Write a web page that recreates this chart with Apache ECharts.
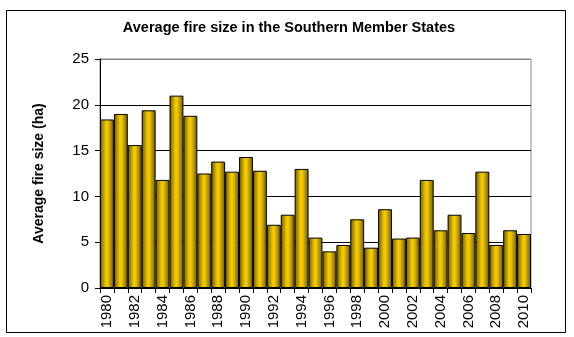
<!DOCTYPE html>
<html><head><meta charset="utf-8">
<script src="https://cdn.jsdelivr.net/npm/echarts@6/dist/echarts.min.js"></script>
<style>html,body{margin:0;padding:0;background:#fff}#c{width:574px;height:337px}</style>
</head><body><div id="c"></div>
<script>
const years = ['1980','1981','1982','1983','1984','1985','1986','1987','1988','1989','1990','1991','1992','1993','1994','1995','1996','1997','1998','1999','2000','2001','2002','2003','2004','2005','2006','2007','2008','2009','2010'];
const avgFireSize = [18.4,19.0,15.6,19.4,11.8,21.0,18.8,12.5,13.8,12.7,14.3,12.8,6.9,8.0,13.0,5.5,4.0,4.7,7.5,4.4,8.6,5.4,5.5,11.8,6.3,8.0,6.0,12.7,4.7,6.3,5.9];
const yTicks = [0,5,10,15,20,25];

const chart = echarts.init(document.getElementById('c'), null, {renderer:'canvas'});
const font = 'Liberation Sans, Arial, sans-serif';
chart.setOption({
  animation:false,
  backgroundColor:'#fff',
  title:{text:'Average fire size in the Southern Member States',left:284,top:15,textAlign:'center',
    textStyle:{fontFamily:font,fontSize:14.5,fontWeight:'bold',color:'#000'}},
  graphic:[{type:'rect',shape:{x:6.5,y:10.5,width:559,height:322},style:{fill:'none',stroke:'#000',lineWidth:1},silent:true}],
  grid:{left:100,top:59,right:43,bottom:49,show:true,borderColor:'#888',borderWidth:1,backgroundColor:'#fff'},
  xAxis:{type:'category',data:years,boundaryGap:true,
    axisLine:{lineStyle:{color:'#000',width:1}},
    axisTick:{show:true,interval:0,length:5,lineStyle:{color:'#000'}},
    axisLabel:{interval:1,rotate:90,fontFamily:font,fontSize:15,color:'#000',margin:7}},
  yAxis:{type:'value',min:0,max:25,interval:5,
    name:'Average fire size (ha)',nameLocation:'middle',nameGap:54,
    nameTextStyle:{fontFamily:font,fontSize:14,fontWeight:'bold',color:'#000'},
    axisLine:{show:true,lineStyle:{color:'#000'}},
    axisTick:{show:true,length:5,lineStyle:{color:'#000'}},
    axisLabel:{fontFamily:font,fontSize:15,color:'#000',margin:11,
      formatter:v=>yTicks.includes(v)?String(v):''},
    splitLine:{show:true,lineStyle:{color:['#000','#000','#000','#000','#000','#888'],width:1}}},
  series:[{type:'bar',data:avgFireSize,barCategoryGap:'0%',
    itemStyle:{borderColor:'#000',borderWidth:1,
      color:new echarts.graphic.LinearGradient(0,0,1,0,[
        {offset:0,color:'#6b5800'},{offset:0.42,color:'#f2c800'},{offset:0.55,color:'#f2c800'},{offset:1,color:'#6b5800'}])}}]
});
</script></body></html>
